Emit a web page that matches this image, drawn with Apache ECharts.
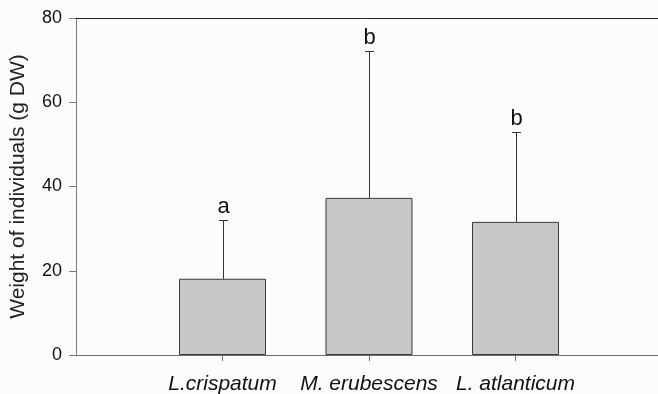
<!DOCTYPE html>
<html>
<head>
<meta charset="utf-8">
<script src="https://cdn.jsdelivr.net/npm/echarts@6/dist/echarts.min.js"></script>
<style>
  html, body { margin: 0; padding: 0; background: #fdfcfb; }
  #chart { width: 658px; height: 394px; }
</style>
</head>
<body>
<div id="chart"></div>
<script>
// Mean dry weight per species, upper standard deviation and significance letters
const species = ['L.crispatum', 'M. erubescens', 'L. atlanticum'];
const meanWeight = [18.1, 37.3, 31.6];
const sdWeight = [14.0, 34.9, 21.3];
const groupLetters = ['a', 'b', 'b'];
const yTicks = [0, 20, 40, 60, 80];

// Pad the category axis with empty slots so the species sit at 1, 2, 3 of 0..4
const axisCats = [''].concat(species, ['']);
const barData = [null].concat(meanWeight, [null]);
const errData = species.map((s, i) => [i + 1, meanWeight[i], meanWeight[i] + sdWeight[i], groupLetters[i]]);

const FONT = '"Liberation Sans", Arial, sans-serif';
const chart = echarts.init(document.getElementById('chart'), null, { renderer: 'canvas' });

chart.setOption({
  backgroundColor: '#fdfcfb',
  animation: false,
  grid: { left: 76, top: 18, width: 586, bottom: 39, containLabel: false, outerBoundsMode: 'none' },
  xAxis: [
    {
      type: 'category',
      data: axisCats,
      boundaryGap: false,
      axisLine: { show: true, lineStyle: { color: '#6e6e6e', width: 1 } },
      axisTick: {
        show: true, length: 6, inside: false,
        interval: (idx) => idx >= 1 && idx <= species.length,
        lineStyle: { color: '#6e6e6e' }
      },
      axisLabel: {
        interval: 0, margin: 19,
        fontFamily: FONT, fontSize: 21, fontStyle: 'italic', color: '#111'
      },
      splitLine: { show: false }
    },
    {
      // top frame line
      type: 'category',
      data: axisCats,
      position: 'top',
      boundaryGap: false,
      axisLine: { show: true, lineStyle: { color: '#222', width: 1 } },
      axisTick: { show: false },
      axisLabel: { show: false },
      splitLine: { show: false }
    }
  ],
  yAxis: {
    type: 'value',
    min: yTicks[0],
    max: yTicks[yTicks.length - 1],
    interval: yTicks[1] - yTicks[0],
    name: 'Weight of individuals (g DW)',
    nameLocation: 'middle',
    nameGap: 47,
    nameTextStyle: { fontFamily: FONT, fontSize: 21, color: '#222' },
    axisLine: { show: true, lineStyle: { color: '#7a7a7a', width: 1 } },
    axisTick: { show: true, inside: false, length: 7, lineStyle: { color: '#7a7a7a' } },
    axisLabel: { margin: 14, fontFamily: FONT, fontSize: 18, color: '#111' },
    splitLine: { show: false }
  },
  series: [
    {
      type: 'bar',
      data: barData,
      barWidth: 87,
      itemStyle: { color: '#c8c8c8', borderColor: '#3a3a3a', borderWidth: 1 },
      z: 2
    },
    {
      // upper error whisker with cap and group letter
      type: 'custom',
      data: errData,
      z: 3,
      renderItem: function (params, api) {
        const x = api.coord([api.value(0), 0])[0];
        const yLow = api.coord([api.value(0), api.value(1)])[1];
        const yHigh = api.coord([api.value(0), api.value(2)])[1];
        const cx = Math.round(x) + 0.5;
        const cap = 4.5;
        return {
          type: 'group',
          children: [
            { type: 'line', shape: { x1: cx, y1: yLow, x2: cx, y2: Math.round(yHigh) + 0.5 },
              style: { stroke: '#333', lineWidth: 1 } },
            { type: 'line', shape: { x1: cx - cap, y1: Math.round(yHigh) + 0.5, x2: cx + cap, y2: Math.round(yHigh) + 0.5 },
              style: { stroke: '#333', lineWidth: 1 } },
            { type: 'text', x: cx, y: yHigh - 2,
              style: { text: groupLetters[params.dataIndex], fontFamily: FONT, fontSize: 22,
                       fill: '#111', align: 'center', verticalAlign: 'bottom' } }
          ]
        };
      }
    }
  ]
});
</script>
</body>
</html>
